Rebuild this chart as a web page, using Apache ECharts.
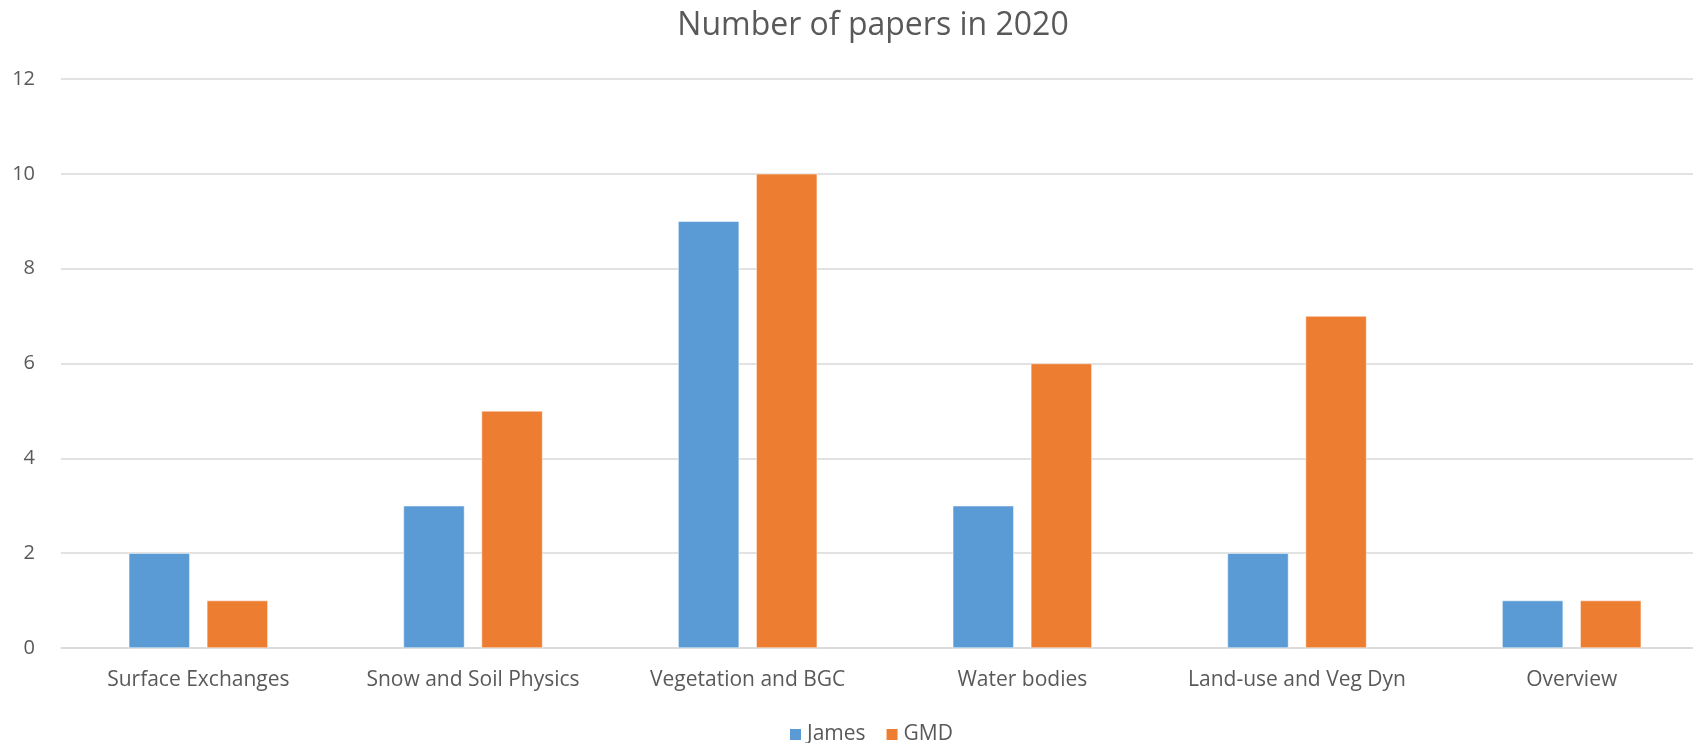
<!DOCTYPE html>
<html>
<head>
<meta charset="utf-8">
<script src="https://cdn.jsdelivr.net/npm/echarts@6/dist/echarts.min.js"></script>
<style>
  html, body { margin: 0; padding: 0; background: #fff; }
  #main { width: 1693px; height: 743px; }
</style>
</head>
<body>
<div id="main"></div>
<script>
const categories = ['Surface Exchanges', 'Snow and Soil Physics', 'Vegetation and BGC', 'Water bodies', 'Land-use and Veg Dyn', 'Overview']
const james = [2, 3, 9, 3, 2, 1]
const gmd = [1, 5, 10, 6, 7, 1]
const yTicks = { min: 0, max: 12, interval: 2 }

const font = '"Open Sans", sans-serif'
const grey = '#595959'

var myChart = echarts.init(document.getElementById('main'))
var option = {
  animation: false,
  color: ['#5B9BD5', '#ED7D31'],
  title: {
    text: 'Number of papers in 2020',
    left: 868,
    textAlign: 'center',
    top: 5,
    textStyle: { fontFamily: font, fontSize: 32, fontWeight: 'normal', color: grey }
  },
  legend: {
    data: ['James', 'GMD'],
    left: 788,
    top: 724,
    padding: 0,
    icon: 'rect',
    itemWidth: 13,
    itemHeight: 13,
    itemGap: 19,
    textStyle: { fontFamily: font, fontSize: 21, color: grey }
  },
  grid: {
    left: 61,
    top: 79,
    width: 1648,
    height: 569,
    containLabel: false,
    outerBoundsMode: 'none'
  },
  xAxis: {
    type: 'category',
    data: categories,
    axisLine: { lineStyle: { color: '#D9D9D9', width: 1.5 } },
    axisTick: { show: false },
    axisLabel: { fontFamily: font, fontSize: 21, color: grey, margin: 22, interval: 0 }
  },
  yAxis: {
    type: 'value',
    min: yTicks.min,
    max: yTicks.max,
    interval: yTicks.interval,
    axisLine: { show: false },
    axisTick: { show: false },
    axisLabel: { fontFamily: font, fontSize: 20, color: grey, margin: 26 },
    splitLine: { lineStyle: { color: '#D9D9D9', width: 1.5 } }
  },
  series: [
    {
      name: 'James',
      type: 'bar',
      barWidth: 61,
      barGap: '28%',
      itemStyle: { borderColor: '#fff', borderWidth: 0.5 },
      data: james
    },
    {
      name: 'GMD',
      type: 'bar',
      barWidth: 61,
      barGap: '28%',
      itemStyle: { borderColor: '#fff', borderWidth: 0.5 },
      data: gmd
    }
  ]
}
option && myChart.setOption(option)
</script>
</body>
</html>
